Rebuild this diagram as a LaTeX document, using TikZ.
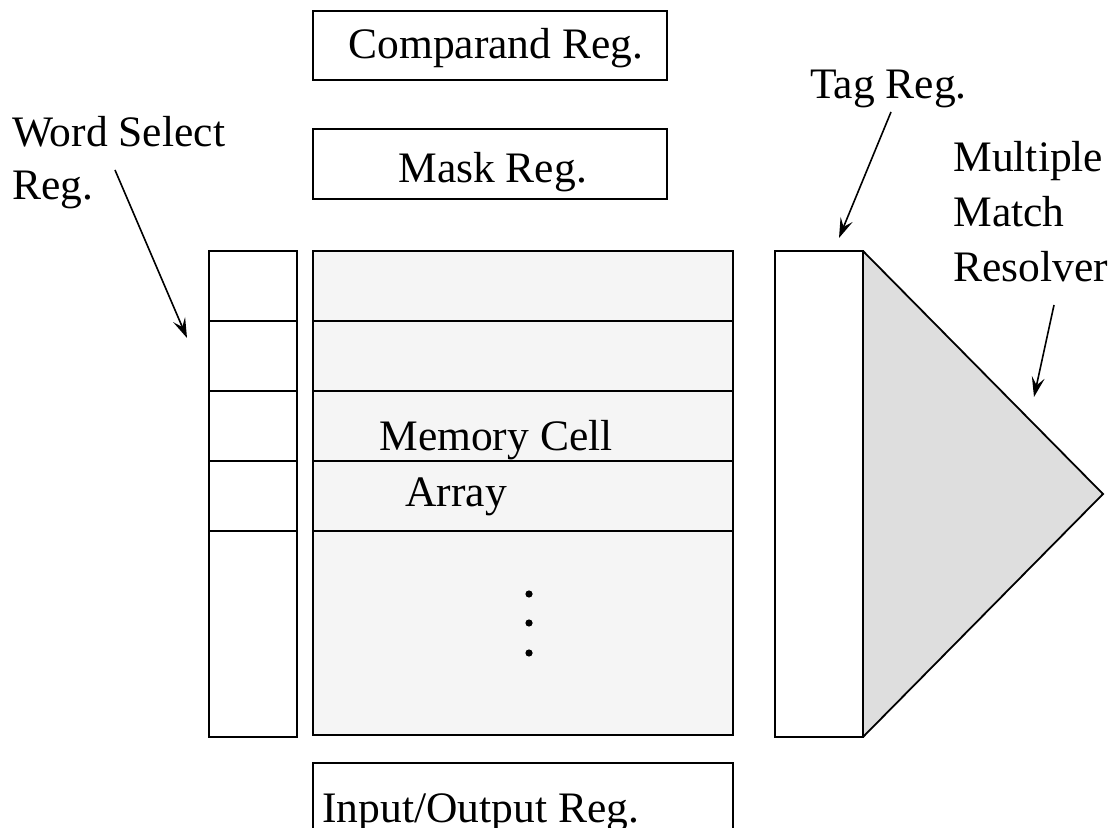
\documentclass[tikz,border=0pt]{standalone}
\usepackage{fontspec}
\setmainfont{Liberation Serif}
\usetikzlibrary{arrows.meta}
\tikzset{
  reg/.style={draw, line width=0.9pt, inner sep=0pt, outer sep=0pt, anchor=north west},
  cellrow/.style={reg, fill=black!4, minimum width=210pt, minimum height=35pt},
  selrow/.style={reg, fill=white, minimum width=44pt, minimum height=35pt},
  lbl/.style={inner sep=0pt, anchor=base west, font=\fontsize{21.75}{26}\selectfont},
  pointer/.style={line width=0.8pt, -{Stealth[length=10pt, width=6.5pt, inset=4pt]}},
}
\begin{document}
\begin{tikzpicture}[x=0.5pt, y=-0.5pt]
\useasboundingbox (0,0) rectangle (1115,828);

% top registers
\node[reg, minimum width=177pt, minimum height=34.5pt] (comp) at (313,11) {};
\node[reg, minimum width=177pt, minimum height=35pt] (mask) at (313,129) {};
\node[lbl] (compt) at (348,59) {Comparand Reg.};
\node[lbl] (maskt) at (398,183) {Mask Reg.};

% word select register
\node[selrow] (ws1) at (209,251) {};
\node[selrow] (ws2) at (209,321) {};
\node[selrow] (ws3) at (209,391) {};
\node[selrow] (ws4) at (209,461) {};
\node[selrow, minimum height=103pt] (ws5) at (209,531) {};

% memory cell array
\node[cellrow] (mc1) at (313,251) {};
\node[cellrow] (mc2) at (313,321) {};
\node[cellrow] (mc3) at (313,391) {};
\node[cellrow] (mc4) at (313,461) {};
\node[cellrow, minimum height=102pt] (mc5) at (313,531) {};
\node[lbl] (memt) at (379,451) {Memory Cell};
\node[lbl] (arrt) at (405,507) {Array};
\foreach \y [count=\i] in {594,623,653}
  \fill (529,\y) circle (3.6);

% multiple match resolver and tag register
\fill[black!13] (863,251) -- (1103,494) -- (863,737) -- cycle;
\draw[line width=0.9pt, line join=miter] (863,251) -- (1103,494) -- (863,737);
\node[reg, fill=white, minimum width=44pt, minimum height=243pt] (tag) at (775,251) {};

% input/output register
\node[reg, minimum width=210pt, minimum height=45pt] (io) at (313,763) {};
\node[lbl] (iot) at (322,822) {Input/Output Reg.};

% labels with pointers
\node[lbl] (wst1) at (12,147) {Word Select};
\node[lbl] (wst2) at (12,200) {Reg.};
\node[lbl] (tagt) at (810,99) {Tag Reg.};
\node[lbl] (mmr1) at (953,172) {Multiple};
\node[lbl] (mmr2) at (953,227) {Match};
\node[lbl] (mmr3) at (953,282) {Resolver};

\coordinate (wsA) at (115,170);
\coordinate (wsB) at (187,338);
\coordinate (tagA) at (891,112);
\coordinate (tagB) at (839,238);
\coordinate (mmrA) at (1054,305);
\coordinate (mmrB) at (1034,397);
\draw[pointer] (wsA) -- (wsB);
\draw[pointer] (tagA) -- (tagB);
\draw[pointer] (mmrA) -- (mmrB);
\end{tikzpicture}
\end{document}
